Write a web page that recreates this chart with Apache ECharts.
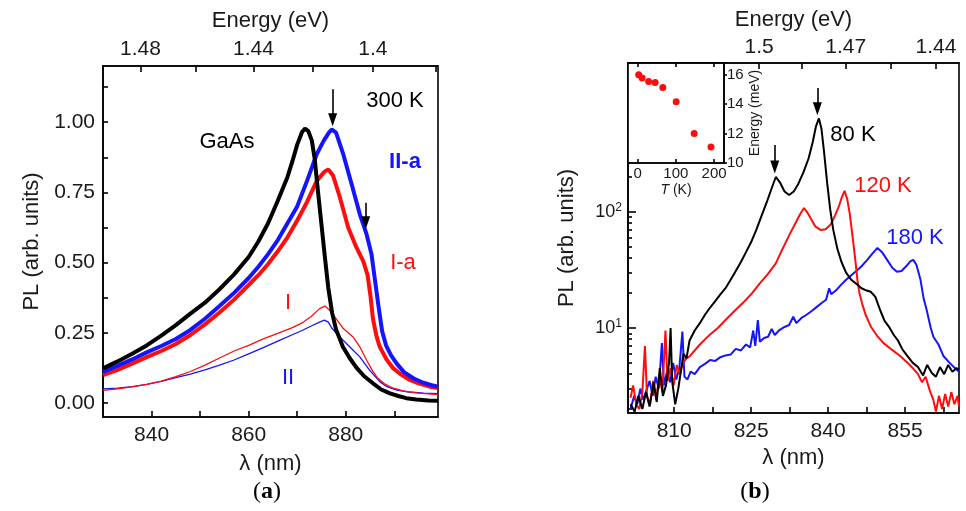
<!DOCTYPE html>
<html>
<head>
<meta charset="utf-8">
<script src="https://cdn.jsdelivr.net/npm/echarts@6/dist/echarts.min.js"></script>
<style>
html, body { margin: 0; padding: 0; background: #fff; }
#main { width: 966px; height: 511px; }
</style>
</head>
<body>
<div id="main"></div>
<script>
// photon energy (eV) = HC / wavelength (nm)
var HC = 1239.84;

// ---- (a) 300 K spectra, wavelength (nm) / PL (normalised)
var gaasX = [830, 833, 836, 839, 842, 845, 848, 851, 854, 857, 860, 862, 864, 866, 868, 869, 870, 871, 871.6, 872.3, 873, 873.6, 874.3, 875, 875.7, 876.4, 877.2, 878, 879.4, 880.8, 882.2, 883.8, 885.6, 887.3, 889.1, 891, 892.5, 894.5, 897, 899];
var gaasY = [0.123, 0.148, 0.175, 0.205, 0.240, 0.277, 0.318, 0.357, 0.405, 0.458, 0.520, 0.575, 0.640, 0.720, 0.805, 0.860, 0.920, 0.965, 0.977, 0.968, 0.935, 0.870, 0.750, 0.635, 0.520, 0.410, 0.320, 0.262, 0.200, 0.160, 0.126, 0.095, 0.070, 0.048, 0.034, 0.024, 0.017, 0.012, 0.009, 0.008];

var iiaX = [830, 833, 836, 839, 842, 845, 848, 851, 854, 857, 860, 862, 864, 866, 868, 870, 872, 874, 875.5, 876.5, 877.1, 878, 879.5, 881.2, 882.9, 884.3, 885.3, 886, 886.7, 887.5, 888.3, 889.3, 890.5, 892, 894, 896, 898, 899];
var iiaY = [0.111, 0.132, 0.155, 0.180, 0.203, 0.228, 0.260, 0.300, 0.345, 0.392, 0.445, 0.485, 0.530, 0.580, 0.640, 0.700, 0.790, 0.885, 0.935, 0.962, 0.974, 0.963, 0.885, 0.780, 0.672, 0.600, 0.530, 0.440, 0.350, 0.255, 0.205, 0.170, 0.140, 0.110, 0.087, 0.072, 0.062, 0.058];

var iaX = [830, 833, 836, 839, 842, 845, 848, 851, 854, 857, 860, 862, 864, 866, 868, 870, 872, 874, 875.5, 876.4, 877.4, 878.8, 880.5, 882.2, 883.6, 884.5, 885.1, 885.6, 886.3, 887, 888.4, 889.8, 891.5, 893.2, 895, 897.3, 899];
var iaY = [0.099, 0.118, 0.140, 0.163, 0.185, 0.210, 0.242, 0.280, 0.322, 0.368, 0.420, 0.455, 0.495, 0.540, 0.590, 0.650, 0.715, 0.790, 0.822, 0.832, 0.809, 0.732, 0.625, 0.554, 0.505, 0.455, 0.380, 0.300, 0.240, 0.200, 0.155, 0.123, 0.100, 0.082, 0.070, 0.058, 0.053];

var iX = [830, 833, 836, 839, 842, 845, 848, 851, 854, 857, 860, 863, 866, 869, 871, 873, 874.6, 875.7, 876.7, 878, 879.5, 881.5, 882.9, 884.3, 885.5, 886.5, 888, 889.5, 892, 895, 899];
var iY = [0.045, 0.050, 0.057, 0.066, 0.078, 0.094, 0.112, 0.135, 0.160, 0.185, 0.205, 0.228, 0.248, 0.268, 0.285, 0.310, 0.336, 0.345, 0.330, 0.300, 0.265, 0.235, 0.200, 0.152, 0.115, 0.090, 0.068, 0.055, 0.042, 0.035, 0.030];

var iiX = [830, 833, 836, 839, 842, 845, 848, 851, 854, 857, 860, 863, 866, 869, 871, 873, 874.6, 875.6, 876.4, 877.2, 878.1, 880.8, 882.9, 884.9, 887, 888.5, 890.5, 893, 896, 899];
var iiY = [0.050, 0.053, 0.058, 0.066, 0.077, 0.090, 0.103, 0.118, 0.135, 0.153, 0.175, 0.197, 0.220, 0.243, 0.258, 0.275, 0.288, 0.295, 0.288, 0.265, 0.247, 0.200, 0.164, 0.117, 0.076, 0.058, 0.046, 0.039, 0.035, 0.033];

// ---- (b) spectra at 80 / 120 / 180 K, wavelength (nm) / PL (arb. units, log)
var k80X = [801.5, 802.3, 803, 803.8, 804.5, 805.2, 806, 806.6, 807.2, 807.8, 808.4, 809, 809.3, 809.6, 810.2, 810.8, 811.3, 811.8, 812.4, 813, 814, 815, 816, 817, 818, 819, 820, 821, 822, 823, 824, 825, 826, 827, 828, 829, 829.8, 830.6, 831.5, 832.4, 833.3, 834.2, 835.2, 836.2, 837, 837.6, 838.2, 838.7, 839.2, 839.8, 840.4, 841, 841.8, 842.6, 843.5, 844.5, 845.5, 846.5, 847.5, 848.3, 849.2, 850.2, 851, 852, 852.8, 853.6, 854.5, 855.5, 856.5, 857.5, 858.5, 859.3, 860.2, 861, 861.8, 862.6, 863.4, 864.2, 865, 865.5];
var k80Y = [2.2, 1.9, 2.6, 2.0, 2.8, 2.1, 3.4, 2.3, 4.5, 2.6, 3.2, 5.0, 10, 3.5, 2.2, 3.0, 4.2, 6.0, 5.5, 7.8, 9.5, 11, 13, 15, 17, 19.5, 22, 26, 31, 37, 45, 55, 70, 92, 120, 160, 200, 180, 150, 140, 150, 175, 220, 290, 400, 540, 640, 520, 330, 180, 105, 70, 48, 37, 30, 26, 24, 22, 21, 20.5, 18.5, 14, 11.5, 10, 8.7, 7.8, 6.5, 5.7, 5.0, 4.6, 3.9, 4.8, 4.1, 3.8, 4.6, 4.0, 4.8, 4.2, 4.5, 4.4];

var k120X = [801.5, 802, 802.6, 803.2, 803.8, 804.3, 804.7, 805.3, 805.9, 806.5, 807.1, 807.7, 808.3, 808.7, 809.3, 809.9, 810.5, 811.1, 811.7, 812.3, 813, 815, 817, 818.5, 820, 821.6, 823.3, 825, 826.6, 828.2, 829.8, 830.7, 831.5, 832.5, 833.5, 834.5, 835.3, 836, 836.6, 837.5, 838.5, 839.5, 840.5, 841.3, 842.1, 842.7, 843.2, 843.7, 844.2, 844.6, 845, 845.4, 845.7, 846.1, 846.6, 847.3, 848.3, 849.5, 850.8, 852.4, 854.1, 855.5, 856.5, 857.5, 858.3, 859, 859.8, 860.5, 861, 861.6, 862.2, 862.8, 863.4, 864, 864.6, 865.2, 865.5];
var k120Y = [2.5, 3.2, 2.2, 2.0, 2.8, 7.0, 2.6, 2.2, 3.5, 2.4, 4.0, 2.8, 9.5, 3.5, 4.5, 3.2, 4.8, 4.0, 5.0, 5.4, 5.7, 7.2, 8.8, 10, 11.7, 13.8, 16.3, 19.5, 24, 29, 36, 44, 52, 64, 78, 95, 108, 98, 88, 75, 70, 71, 78, 92, 112, 135, 152, 130, 97, 70, 50, 35, 26, 20, 16.3, 13, 10.3, 8.6, 7.4, 6.5, 5.7, 5.0, 4.5, 4.0, 3.4, 3.8, 2.9, 2.4, 1.9, 2.6, 2.0, 2.7, 2.1, 2.8, 2.2, 2.6, 2.1];

var k180X = [801.5, 802.2, 802.8, 803.4, 804, 804.6, 805.2, 805.8, 806.4, 807, 807.6, 808, 808.6, 809.2, 809.8, 810.4, 811, 811.6, 812, 812.6, 813.2, 814, 815, 816, 817, 818, 819, 820, 821, 822, 823, 824, 824.8, 825.4, 825.8, 826.3, 826.7, 827.5, 828.3, 829, 829.6, 830.5, 831.5, 832.4, 833.2, 833.8, 834.8, 835.8, 836.8, 837.8, 838.8, 839.6, 840.2, 840.6, 841.5, 842.5, 843.5, 844.5, 845.5, 846.5, 847.5, 848.5, 849.6, 850.5, 851.5, 852.5, 853.4, 854.3, 855.2, 856, 856.6, 857.2, 858, 858.6, 859.2, 860, 860.5, 861.5, 862.5, 863.5, 864.5, 865.5];
var k180Y = [2.0, 2.6, 2.2, 3.0, 2.4, 2.9, 3.5, 2.6, 3.8, 3.0, 7.4, 3.2, 4.2, 3.4, 5.0, 3.6, 4.5, 9.3, 3.8, 3.6, 4.2, 4.0, 4.6, 4.9, 5.3, 5.2, 5.6, 5.8, 5.9, 6.6, 6.4, 7.2, 6.8, 9.5, 7.0, 11.7, 7.6, 8.2, 8.4, 9.8, 8.7, 9.6, 10.2, 10.6, 12.5, 11.0, 12.2, 13.0, 14.0, 15.2, 16.5, 17.5, 22, 19.5, 21, 23.5, 26, 28.5, 31, 34, 38, 43, 49, 45, 38.6, 33, 30.5, 31, 34, 37.5, 38.6, 35, 26, 18, 14.3, 10, 8.4, 7.2, 5.7, 5.1, 4.6, 4.2];

// ---- inset: temperature (K) / energy separation (meV)
var insetT = [3, 12, 29, 46, 66, 101, 148, 192];
var insetE = [16.0, 15.78, 15.54, 15.47, 15.13, 14.17, 12.0, 11.08];

// ---- arrows marking the peaks: wavelength, shaft top, head centre
var aArrowX = [877.3, 884.1];
var aArrowTop = [1.117, 0.713];
var aArrowHead = [1.009, 0.642];
var bArrowX = [837.9, 829.6];
var bArrowTop = [1172, 378];
var bArrowHead = [773, 244];

// ---- tick values
var aLamTicks = [840, 850, 860, 870, 880, 890];
var aLamLabels = [840, 860, 880];
var aEnergyTicks = [1.48, 1.46, 1.44, 1.42, 1.40, 1.38];
var aEnergyLabels = [1.48, 1.44, 1.40];
var aPLTicks = [0, 0.125, 0.25, 0.375, 0.5, 0.625, 0.75, 0.875, 1, 1.125];
var aPLLabels = [0, 0.25, 0.5, 0.75, 1];
var bLamTicks = [810, 817.5, 825, 832.5, 840, 847.5, 855, 862.5];
var bLamLabels = [810, 825, 840, 855];
var bEnergyTicks = [1.5, 1.485, 1.47, 1.455, 1.44];
var bEnergyLabels = [1.5, 1.47, 1.44];
var bDecades = [10, 100];
var bMinorTicks = [2, 3, 4, 5, 6, 7, 8, 9, 20, 30, 40, 50, 60, 70, 80, 90, 200];
var insetTTicks = [0, 100, 200];
var insetETicks = [10, 12, 14, 16];

var FONT = "'Liberation Sans', Arial, sans-serif";
var INK = "#1a1a1a";
var BLUE = "#1414ff";
var RED = "#ff0d0d";

function pts(xs, ys) {
  return xs.map(function(x, i) { return [x, ys[i]]; });
}
function toLam(list) {
  return list.map(function(e) { return HC / e; });
}
function energyLabel(v) {
  return String(+(HC / v).toFixed(2));
}

var line = { color: "#000", width: 1.6 };

function baseAxis(o) {
  var a = {
    type: "value",
    splitLine: { show: false },
    axisLine: { show: true, onZero: false, lineStyle: line },
    axisTick: { inside: true, length: 6, lineStyle: line },
    axisLabel: { color: INK, fontSize: 21, fontFamily: FONT },
    nameTextStyle: { color: INK, fontSize: 22, fontFamily: FONT },
    nameLocation: "middle"
  };
  for (var k in o) {
    if (typeof o[k] === "object" && a[k] && !Array.isArray(o[k])) {
      a[k] = Object.assign({}, a[k], o[k]);
    } else {
      a[k] = o[k];
    }
  }
  return a;
}

function spec(name, xs, ys, color, width, xi, yi, z) {
  return {
    name: name,
    type: "line",
    xAxisIndex: xi,
    yAxisIndex: yi,
    data: pts(xs, ys),
    showSymbol: false,
    symbol: "none",
    silent: true,
    z: z,
    lineStyle: { color: color, width: width },
    itemStyle: { color: color }
  };
}

// shaft = markLine without end symbols, head = downward triangle
function shafts(xs, tops, heads) {
  return {
    silent: true,
    symbol: "none",
    label: { show: false },
    lineStyle: { color: "#000", width: 1.6, type: "solid" },
    data: xs.map(function(x, i) {
      return [{ coord: [x, tops[i]] }, { coord: [x, heads[i]] }];
    })
  };
}
function heads(xs, ys, xi, yi) {
  return {
    type: "scatter", xAxisIndex: xi, yAxisIndex: yi, z: 8, silent: true,
    data: pts(xs, ys),
    symbol: "triangle", symbolRotate: 180, symbolSize: [9, 13],
    itemStyle: { color: "#000", opacity: 1 }
  };
}

var gaas = spec("GaAs", gaasX, gaasY, "#000", 4, 0, 0, 6);
gaas.markLine = shafts(aArrowX, aArrowTop, aArrowHead);

var k80 = spec("80 K", k80X, k80Y, "#000", 2, 2, 1, 6);
k80.markLine = shafts(bArrowX, bArrowTop, bArrowHead);

function txt(x, y, s, color, bold) {
  return {
    type: "text", x: x, y: y, silent: true,
    style: {
      text: s, fill: color, font: (bold ? "bold " : "") + "22px " + FONT,
      align: "center", verticalAlign: "middle",
      textAlign: "center", textVerticalAlign: "middle"
    }
  };
}
function panelLabel(x, y, letter) {
  return {
    type: "text", x: x, y: y, silent: true,
    style: {
      text: "({b|" + letter + "})", fill: "#000",
      font: "24px 'Liberation Serif', serif",
      align: "center", verticalAlign: "middle",
      textAlign: "center", textVerticalAlign: "middle",
      rich: { b: { fontWeight: "bold", fontSize: 24, fontFamily: "'Liberation Serif', serif", fill: "#000" } }
    }
  };
}

var chart = echarts.init(document.getElementById("main"));
chart.setOption({
  animation: false,
  backgroundColor: "#fff",
  textStyle: { fontFamily: FONT },
  grid: [
    { left: 103, top: 66, width: 335, height: 351, show: true, borderColor: "#000", borderWidth: 1.6 },
    { left: 628, top: 63, width: 331, height: 350, show: true, borderColor: "#000", borderWidth: 1.6 },
    { left: 628, top: 63, width: 96, height: 100, show: true, borderColor: "#000", borderWidth: 1.6, backgroundColor: "#fff", z: 3 }
  ],
  xAxis: [
    baseAxis({
      gridIndex: 0, position: "bottom", min: 830, max: 899,
      axisTick: { customValues: aLamTicks },
      axisLabel: { customValues: aLamLabels, margin: 8 },
      name: "λ (nm)", nameGap: 36
    }),
    baseAxis({
      gridIndex: 0, position: "top", min: 830, max: 899,
      axisTick: { customValues: toLam(aEnergyTicks) },
      axisLabel: { customValues: toLam(aEnergyLabels), margin: 6, formatter: energyLabel },
      name: "Energy (eV)", nameGap: 34
    }),
    baseAxis({
      gridIndex: 1, position: "bottom", min: 801, max: 865.5,
      axisTick: { customValues: bLamTicks },
      axisLabel: { customValues: bLamLabels, margin: 8 },
      name: "λ (nm)", nameGap: 34
    }),
    baseAxis({
      gridIndex: 1, position: "top", min: 801, max: 865.5,
      axisTick: { customValues: toLam(bEnergyTicks) },
      axisLabel: { customValues: toLam(bEnergyLabels), margin: 5, formatter: energyLabel },
      name: "Energy (eV)", nameGap: 32
    }),
    baseAxis({
      gridIndex: 2, position: "bottom", min: -25, max: 226, z: 4,
      axisTick: { customValues: insetTTicks, length: 4 },
      axisLabel: { customValues: insetTTicks, fontSize: 15, margin: 3 },
      name: "{i|T} (K)", nameGap: 20,
      nameTextStyle: { fontSize: 14, color: INK, rich: { i: { fontStyle: "italic", fontSize: 14, color: INK } } }
    }),
    baseAxis({
      gridIndex: 2, position: "top", min: -25, max: 226, z: 4,
      axisTick: { customValues: insetTTicks, length: 4 },
      axisLabel: { show: false }
    })
  ],
  yAxis: [
    baseAxis({
      gridIndex: 0, position: "left", min: -0.05, max: 1.2,
      axisTick: { customValues: aPLTicks, length: 5 },
      axisLabel: { customValues: aPLLabels, margin: 8, formatter: function(v) { return v.toFixed(2); } },
      name: "PL (arb. units)", nameGap: 60
    }),
    baseAxis({
      gridIndex: 1, position: "left", type: "log", min: 1.85, max: 1920,
      axisTick: { customValues: bDecades, length: 8 },
      axisLabel: {
        customValues: bDecades, margin: 6,
        formatter: function(v) { return "{b|10}{s|" + Math.round(Math.log10(v)) + "}"; },
        rich: {
          b: { fontSize: 18, color: INK, fontFamily: FONT },
          s: { fontSize: 12, color: INK, fontFamily: FONT, padding: [0, 0, 9, 0] }
        }
      },
      name: "PL (arb. units)", nameGap: 50
    }),
    baseAxis({
      gridIndex: 1, position: "left", type: "log", min: 1.85, max: 1920,
      axisLine: { show: false },
      axisTick: { customValues: bMinorTicks, length: 4 },
      axisLabel: { show: false }
    }),
    baseAxis({
      gridIndex: 2, position: "right", min: 10, max: 16.8, z: 4,
      axisTick: { inside: false, customValues: insetETicks, length: 3 },
      axisLabel: { customValues: insetETicks, fontSize: 15, margin: 3 },
      name: "Energy (meV)", nameGap: 24,
      nameTextStyle: { fontSize: 14, color: INK }
    })
  ],
  series: [
    spec("II", iiX, iiY, BLUE, 1.3, 0, 0, 2),
    spec("I", iX, iY, RED, 1.3, 0, 0, 2),
    spec("I-a", iaX, iaY, RED, 4, 0, 0, 4),
    spec("II-a", iiaX, iiaY, BLUE, 4, 0, 0, 5),
    gaas,
    heads(aArrowX, aArrowHead, 0, 0),
    spec("180 K", k180X, k180Y, BLUE, 2, 2, 1, 3),
    spec("120 K", k120X, k120Y, RED, 2, 2, 1, 4),
    k80,
    heads(bArrowX, bArrowHead, 2, 1),
    {
      type: "scatter", xAxisIndex: 4, yAxisIndex: 3, z: 5,
      data: pts(insetT, insetE), symbolSize: 7, silent: true,
      itemStyle: { color: RED, opacity: 1 }
    }
  ],
  graphic: [
    txt(227, 142, "GaAs", "#000"),
    txt(395, 101, "300 K", "#000"),
    txt(405, 162, "II-a", BLUE, true),
    txt(403, 263, "I-a", RED),
    txt(288, 303, "I", RED),
    txt(288, 378, "II", BLUE),
    txt(853, 135, "80 K", "#000"),
    txt(883, 186, "120 K", RED),
    txt(915, 238, "180 K", BLUE),
    panelLabel(267, 492, "a"),
    panelLabel(755, 492, "b")
  ]
});
</script>
</body>
</html>
